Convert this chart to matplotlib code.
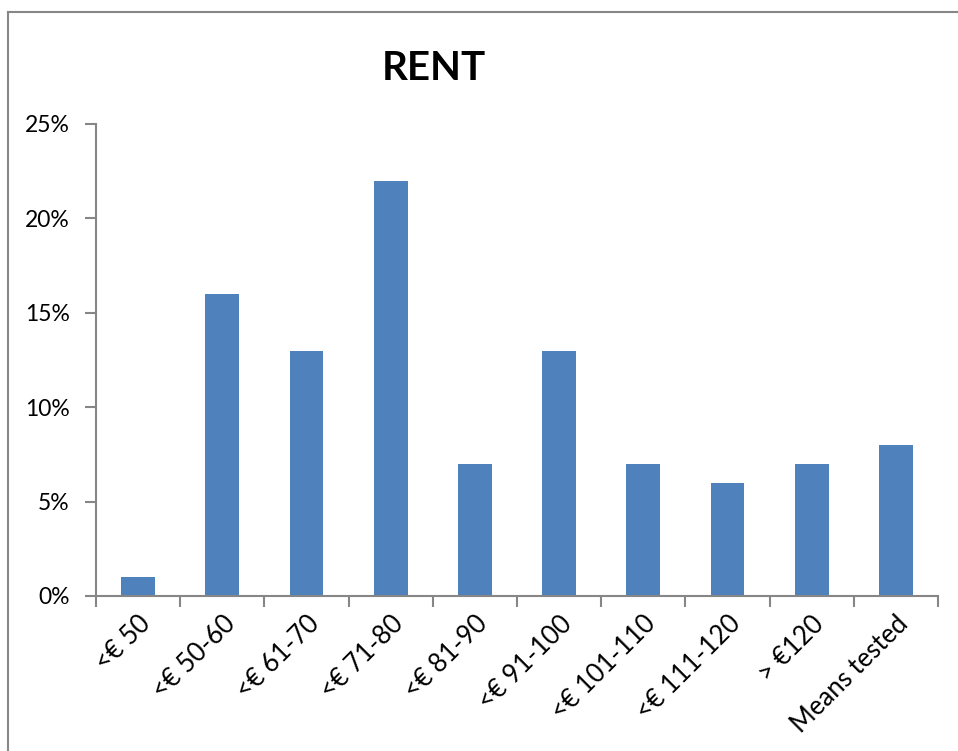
import matplotlib
matplotlib.use("Agg")
import matplotlib.pyplot as plt
from matplotlib.lines import Line2D

categories = ["<€ 50", "<€ 50-60", "<€ 61-70", "<€ 71-80", "<€ 81-90",
              "<€ 91-100", "<€ 101-110", "<€ 111-120", "> €120", "Means tested"]
shares = [1, 16, 13, 22, 7, 13, 7, 6, 7, 8]
yticks = [0, 5, 10, 15, 20, 25]

plt.rcParams['font.family'] = ['Lato', 'DejaVu Sans']

fig = plt.figure(figsize=(9.58, 7.51), dpi=100)
ax = fig.add_axes([0.1002, 0.2064, 0.8789, 0.6285])

x = list(range(len(categories)))
ax.bar(x, shares, width=0.4, color='#4F81BD', zorder=2)

ax.set_xlim(-0.5, len(categories) - 0.5)
ax.set_ylim(0, 25)
ax.set_yticks(yticks)
ax.set_yticklabels([f"{v}%" for v in yticks], fontsize=16.5)

# category boundaries get the tick marks, labels sit at the centres
ax.set_xticks([i - 0.5 for i in range(len(categories) + 1)])
ax.set_xticklabels([])
ax.set_xticks(x, minor=True)
ax.set_xticklabels(categories, minor=True, rotation=45, ha='right',
                   rotation_mode='anchor', fontsize=18.5)
ax.tick_params(axis='x', which='minor', length=0, pad=11)
ax.tick_params(axis='x', which='major', length=8, color='#868686', width=1.5)
ax.tick_params(axis='y', length=8, color='#868686', width=1.5, pad=11)

for side in ['top', 'right']:
    ax.spines[side].set_visible(False)
for side in ['left', 'bottom']:
    ax.spines[side].set_color('#868686')
    ax.spines[side].set_linewidth(1.5)

fig.text(434 / 958, 1 - 68 / 751, "RENT", fontsize=29, fontweight='bold',
         ha='center', va='center')

# outer chart frame
fig.add_artist(Line2D([8 / 958, 8 / 958], [0, 1 - 12 / 751],
                      transform=fig.transFigure, color='#878787', lw=1.5))
fig.add_artist(Line2D([8 / 958, 1], [1 - 12 / 751, 1 - 12 / 751],
                      transform=fig.transFigure, color='#878787', lw=1.5))

fig.savefig("out.png", dpi=100)
